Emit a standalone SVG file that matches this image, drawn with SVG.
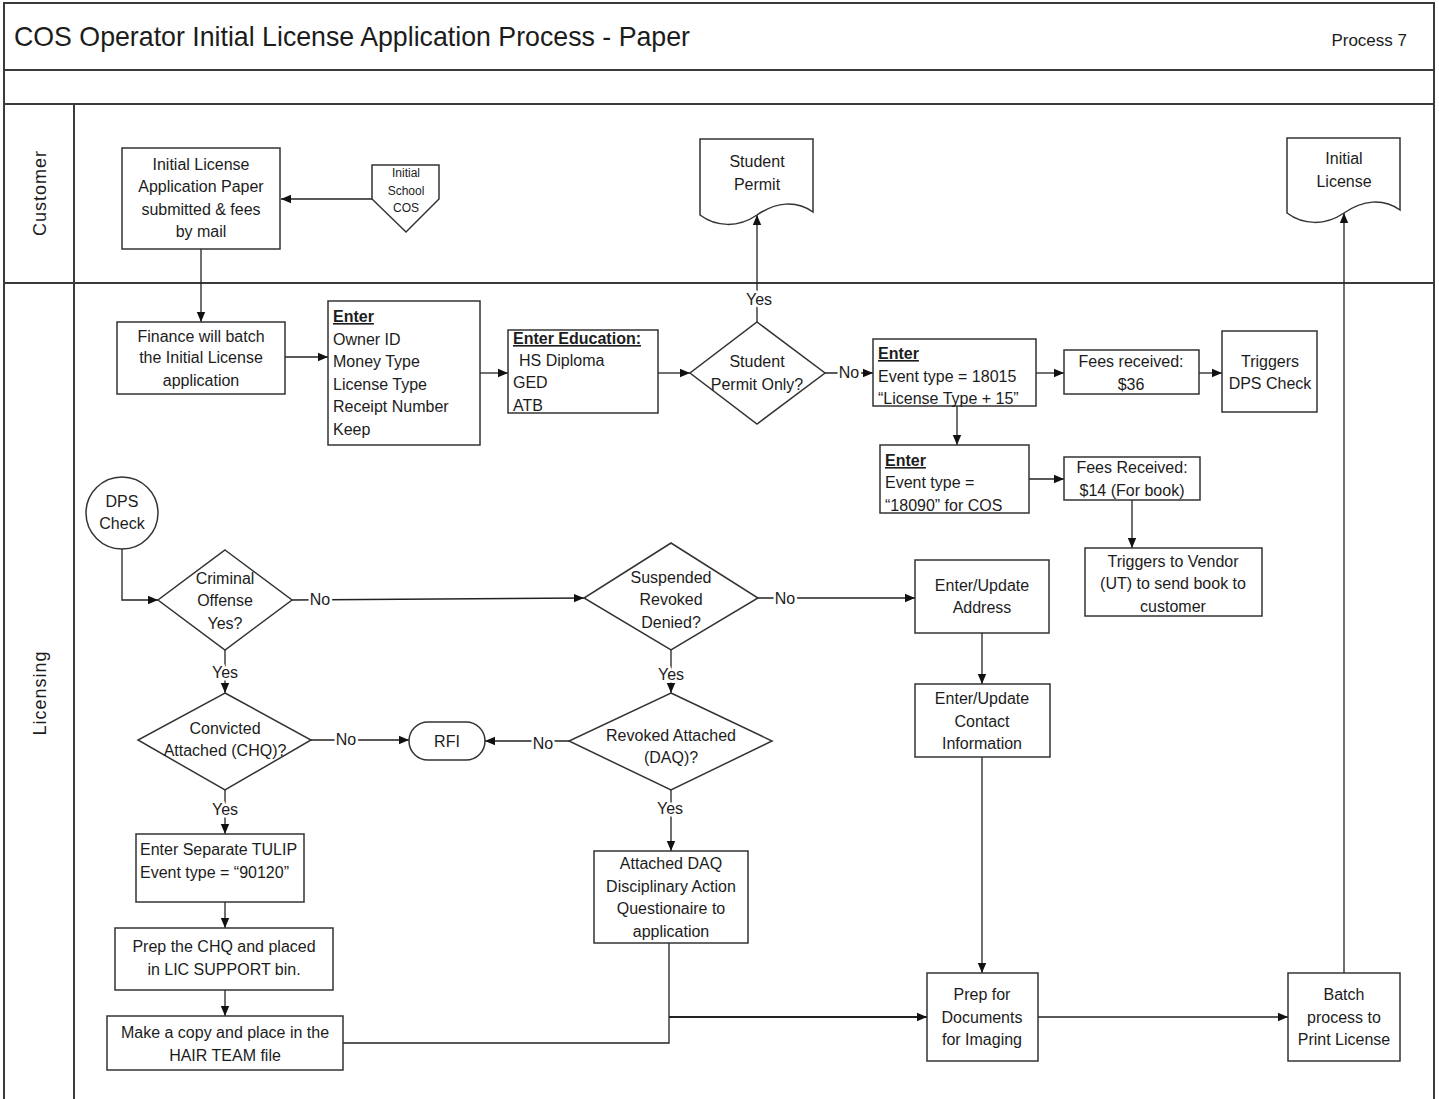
<svg xmlns="http://www.w3.org/2000/svg" width="1439" height="1099" viewBox="0 0 1439 1099">
  <defs>
    <marker id="ah" viewBox="0 0 10 10" refX="10" refY="5" markerWidth="10" markerHeight="10" markerUnits="userSpaceOnUse" orient="auto">
      <path d="M0,0.8 L10,5 L0,9.2 z" fill="#111"/>
    </marker>
    <style>
      .frame { fill: none; stroke: #3a3a3a; stroke-width: 2; }
      .box { fill: #fff; stroke: #333; stroke-width: 1.5; }
      .conn { fill: none; stroke: #222; stroke-width: 1.3; }
      .arr { marker-end: url(#ah); }
      text { font-family: "Liberation Sans", Arial, sans-serif; fill: #1c1c1c; font-size: 16px; }
      .c { text-anchor: middle; }
      .hd { font-weight: bold; text-decoration: underline; }
      .lbl { paint-order: stroke; stroke: #fff; stroke-width: 5px; stroke-linejoin: round; }
      .sm { font-size: 12px; }
      .lane { font-size: 18px; letter-spacing: 1px; }
      .title { font-size: 28px; }
    </style>
  </defs>

  <rect width="1439" height="1099" fill="#fff"/>

  <!-- pool frame and lanes -->
  <g id="frame">
    <rect class="frame" x="4" y="3" width="1430" height="1110"/>
    <line class="frame" x1="4" y1="70" x2="1434" y2="70"/>
    <line class="frame" x1="4" y1="104" x2="1434" y2="104"/>
    <line class="frame" x1="4" y1="283" x2="1434" y2="283"/>
    <line class="frame" x1="74" y1="104" x2="74" y2="1099"/>
    <text class="title" x="14" y="46" textLength="676" lengthAdjust="spacingAndGlyphs">COS Operator Initial License Application Process - Paper</text>
    <text x="1407" y="46" style="font-size:17px" text-anchor="end">Process 7</text>
    <text class="lane c" transform="translate(46,193) rotate(-90)">Customer</text>
    <text class="lane c" transform="translate(46,693) rotate(-90)">Licensing</text>
  </g>

  <!-- connectors -->
  <g id="connectors">
    <path class="conn arr" d="M201,249 V322"/>
    <path class="conn arr" d="M372,199 H281"/>
    <path class="conn arr" d="M285,357 H328"/>
    <path class="conn arr" d="M480,373 H508"/>
    <path class="conn arr" d="M658,373 H690"/>
    <path class="conn arr" d="M757,322 V215"/>
    <path class="conn arr" d="M825,373 H873"/>
    <path class="conn arr" d="M1036,373 H1064"/>
    <path class="conn arr" d="M1199,373 H1222"/>
    <path class="conn arr" d="M957,406 V445"/>
    <path class="conn arr" d="M1029,479 H1064"/>
    <path class="conn arr" d="M1132,500 V548"/>
    <path class="conn arr" d="M122,549 V600 H158"/>
    <path class="conn arr" d="M292,600 L584,598"/>
    <path class="conn arr" d="M758,598 H915"/>
    <path class="conn arr" d="M982,633 V684"/>
    <path class="conn arr" d="M982,757 V973"/>
    <path class="conn arr" d="M225,650 V693"/>
    <path class="conn arr" d="M311,740 H409"/>
    <path class="conn arr" d="M569,741 H485"/>
    <path class="conn arr" d="M671,650 V693"/>
    <path class="conn arr" d="M671,790 V851"/>
    <path class="conn arr" d="M225,790 V834"/>
    <path class="conn arr" d="M225,902 V928"/>
    <path class="conn arr" d="M225,990 V1016"/>
    <path class="conn" d="M343,1043 H669 V943"/>
    <path class="conn arr" d="M669,1017 H927" style="stroke-width:2"/>
    <path class="conn arr" d="M1038,1017 H1288"/>
    <path class="conn arr" d="M1344,973 V213"/>

    <!-- branch labels -->
    <text class="c lbl" x="759" y="305">Yes</text>
    <text class="c lbl" x="849" y="378">No</text>
    <text class="c lbl" x="320" y="605">No</text>
    <text class="c lbl" x="785" y="604">No</text>
    <text class="c lbl" x="225" y="678">Yes</text>
    <text class="c lbl" x="346" y="745">No</text>
    <text class="c lbl" x="543" y="749">No</text>
    <text class="c lbl" x="671" y="680">Yes</text>
    <text class="c lbl" x="670" y="814">Yes</text>
    <text class="c lbl" x="225" y="815">Yes</text>
  </g>

  <!-- customer lane -->
  <g id="n-application">
    <rect class="box" x="122" y="148" width="158" height="101"/>
    <text class="c" x="201" y="170">Initial License</text>
    <text class="c" x="201" y="192">Application Paper</text>
    <text class="c" x="201" y="215">submitted &amp; fees</text>
    <text class="c" x="201" y="237">by mail</text>
  </g>
  <g id="n-school">
    <path class="box" d="M372,165 H439 V199 L406,232 L372,199 Z"/>
    <text class="c sm" x="406" y="177">Initial</text>
    <text class="c sm" x="406" y="195">School</text>
    <text class="c sm" x="406" y="212">COS</text>
  </g>
  <g id="n-student-permit">
    <path class="box" d="M700,139 H813 V212 C796,200 776,202 757,215 C738,228 716,227 700,215 Z"/>
    <text class="c" x="757" y="167">Student</text>
    <text class="c" x="757" y="190">Permit</text>
  </g>
  <g id="n-initial-license">
    <path class="box" d="M1287,138 H1400 V210 C1383,198 1363,200 1344,213 C1325,226 1303,225 1287,213 Z"/>
    <text class="c" x="1344" y="164">Initial</text>
    <text class="c" x="1344" y="187">License</text>
  </g>

  <!-- licensing lane -->
  <g id="n-finance">
    <rect class="box" x="117" y="322" width="168" height="72"/>
    <text class="c" x="201" y="342">Finance will batch</text>
    <text class="c" x="201" y="363">the Initial License</text>
    <text class="c" x="201" y="386">application</text>
  </g>
  <g id="n-enter-owner">
    <rect class="box" x="328" y="301" width="152" height="144"/>
    <text class="hd" x="333" y="322">Enter</text>
    <text x="333" y="345">Owner ID</text>
    <text x="333" y="367">Money Type</text>
    <text x="333" y="390">License Type</text>
    <text x="333" y="412">Receipt Number</text>
    <text x="333" y="435">Keep</text>
  </g>
  <g id="n-education">
    <rect class="box" x="508" y="330" width="150" height="83"/>
    <text class="hd" x="513" y="344">Enter Education:</text>
    <text x="519" y="366">HS Diploma</text>
    <text x="513" y="388">GED</text>
    <text x="513" y="411">ATB</text>
  </g>
  <g id="n-permit-only">
    <path class="box" d="M757,322 L825,373 L757,424 L690,373 Z"/>
    <text class="c" x="757" y="367">Student</text>
    <text class="c" x="757" y="390">Permit Only?</text>
  </g>
  <g id="n-enter-18015">
    <rect class="box" x="873" y="339" width="163" height="67"/>
    <text class="hd" x="878" y="359">Enter</text>
    <text x="878" y="382">Event type = 18015</text>
    <text x="878" y="404">“License Type + 15”</text>
  </g>
  <g id="n-fees-36">
    <rect class="box" x="1064" y="350" width="135" height="44"/>
    <text class="c" x="1131" y="367">Fees received:</text>
    <text class="c" x="1131" y="390">$36</text>
  </g>
  <g id="n-dps-trigger">
    <rect class="box" x="1222" y="331" width="95" height="81"/>
    <text class="c" x="1270" y="367">Triggers</text>
    <text class="c" x="1270" y="389">DPS Check</text>
  </g>
  <g id="n-enter-18090">
    <rect class="box" x="880" y="445" width="149" height="68"/>
    <text class="hd" x="885" y="466">Enter</text>
    <text x="885" y="488">Event type =</text>
    <text x="885" y="511">“18090” for COS</text>
  </g>
  <g id="n-fees-14">
    <rect class="box" x="1064" y="457" width="136" height="43"/>
    <text class="c" x="1132" y="473">Fees Received:</text>
    <text class="c" x="1132" y="496">$14 (For book)</text>
  </g>
  <g id="n-vendor">
    <rect class="box" x="1085" y="548" width="177" height="68"/>
    <text class="c" x="1173" y="567">Triggers to Vendor</text>
    <text class="c" x="1173" y="589">(UT) to send book to</text>
    <text class="c" x="1173" y="612">customer</text>
  </g>
  <g id="n-dps-check">
    <circle class="box" cx="122" cy="513" r="36"/>
    <text class="c" x="122" y="507">DPS</text>
    <text class="c" x="122" y="529">Check</text>
  </g>
  <g id="n-criminal">
    <path class="box" d="M225,550 L292,600 L225,650 L158,600 Z"/>
    <text class="c" x="225" y="584">Criminal</text>
    <text class="c" x="225" y="606">Offense</text>
    <text class="c" x="225" y="629">Yes?</text>
  </g>
  <g id="n-suspended">
    <path class="box" d="M671,543 L758,598 L671,650 L584,598 Z"/>
    <text class="c" x="671" y="583">Suspended</text>
    <text class="c" x="671" y="605">Revoked</text>
    <text class="c" x="671" y="628">Denied?</text>
  </g>
  <g id="n-address">
    <rect class="box" x="915" y="560" width="134" height="73"/>
    <text class="c" x="982" y="591">Enter/Update</text>
    <text class="c" x="982" y="613">Address</text>
  </g>
  <g id="n-contact">
    <rect class="box" x="915" y="684" width="135" height="73"/>
    <text class="c" x="982" y="704">Enter/Update</text>
    <text class="c" x="982" y="727">Contact</text>
    <text class="c" x="982" y="749">Information</text>
  </g>
  <g id="n-convicted">
    <path class="box" d="M225,693 L311,740 L225,790 L138,740 Z"/>
    <text class="c" x="225" y="734">Convicted</text>
    <text class="c" x="225" y="756">Attached (CHQ)?</text>
  </g>
  <g id="n-rfi">
    <rect class="box" x="409" y="722" width="76" height="38" rx="19"/>
    <text class="c" x="447" y="747">RFI</text>
  </g>
  <g id="n-revoked">
    <path class="box" d="M671,693 L772,741 L671,790 L569,741 Z"/>
    <text class="c" x="671" y="741">Revoked Attached</text>
    <text class="c" x="671" y="763">(DAQ)?</text>
  </g>
  <g id="n-daq">
    <rect class="box" x="594" y="851" width="154" height="92"/>
    <text class="c" x="671" y="869">Attached DAQ</text>
    <text class="c" x="671" y="892">Disciplinary Action</text>
    <text class="c" x="671" y="914">Questionaire to</text>
    <text class="c" x="671" y="937">application</text>
  </g>
  <g id="n-tulip">
    <rect class="box" x="136" y="834" width="168" height="68"/>
    <text x="140" y="855">Enter Separate TULIP</text>
    <text x="140" y="878">Event type = “90120”</text>
  </g>
  <g id="n-prep-chq">
    <rect class="box" x="115" y="928" width="218" height="62"/>
    <text class="c" x="224" y="952">Prep the CHQ and placed</text>
    <text class="c" x="224" y="975">in LIC SUPPORT bin.</text>
  </g>
  <g id="n-copy">
    <rect class="box" x="107" y="1016" width="236" height="54"/>
    <text class="c" x="225" y="1038">Make a copy and place in the</text>
    <text class="c" x="225" y="1061">HAIR TEAM file</text>
  </g>
  <g id="n-prep-docs">
    <rect class="box" x="927" y="973" width="111" height="88"/>
    <text class="c" x="982" y="1000">Prep for</text>
    <text class="c" x="982" y="1023">Documents</text>
    <text class="c" x="982" y="1045">for Imaging</text>
  </g>
  <g id="n-batch">
    <rect class="box" x="1288" y="973" width="112" height="88"/>
    <text class="c" x="1344" y="1000">Batch</text>
    <text class="c" x="1344" y="1023">process to</text>
    <text class="c" x="1344" y="1045">Print License</text>
  </g>
</svg>
